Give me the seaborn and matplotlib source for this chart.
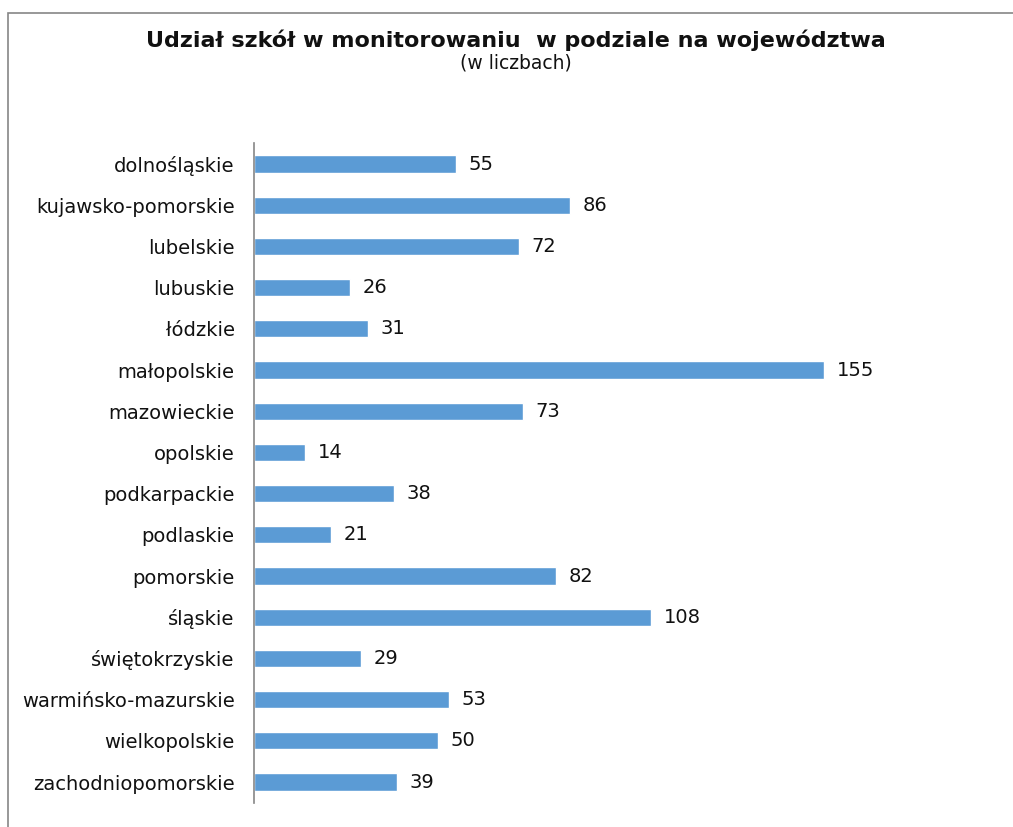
import matplotlib
matplotlib.use("Agg")
import matplotlib.pyplot as plt
import seaborn as sns
import pandas as pd
from matplotlib.patches import Rectangle

# dane
wojewodztwa = ["dolnośląskie", "kujawsko-pomorskie", "lubelskie", "lubuskie",
               "łódzkie", "małopolskie", "mazowieckie", "opolskie",
               "podkarpackie", "podlaskie", "pomorskie", "śląskie",
               "świętokrzyskie", "warmińsko-mazurskie", "wielkopolskie",
               "zachodniopomorskie"]
liczba_szkol = [55, 86, 72, 26, 31, 155, 73, 14, 38, 21, 82, 108, 29, 53, 50, 39]

tytul = "Udział szkół w monitorowaniu  w podziale na województwa"
podtytul = "(w liczbach)"

df = pd.DataFrame({"woj": wojewodztwa, "n": liczba_szkol})

sns.set_style("white")
plt.rcParams["font.family"] = ["DejaVu Sans"]

fig = plt.figure(figsize=(10.13, 8.27), dpi=100)
ax = fig.add_axes([0.2507, 0.0295, 0.7266, 0.7971])

sns.barplot(data=df, x="n", y="woj", color="#5B9BD5", saturation=1,
            width=0.42, ax=ax)

ax.set_xlim(0, 200)
ax.set_xlabel("")
ax.set_ylabel("")
ax.set_xticks([])
for s in ["top", "right", "bottom"]:
    ax.spines[s].set_visible(False)
ax.spines["left"].set_color("#868686")
ax.spines["left"].set_linewidth(1.2)
ax.tick_params(axis="y", length=0, pad=14, labelsize=14, labelcolor="#111111")

for c in ax.containers:
    ax.bar_label(c, padding=9, fontsize=14, color="#111111")

# tytul
fig.text(0.509, 0.951, tytul, ha="center", va="center", fontsize=16,
         fontweight="bold", color="#111111")
fig.text(0.509, 0.924, podtytul, ha="center", va="center", fontsize=13.5,
         color="#111111")

# ramka wykresu
fig.patches.append(Rectangle((0.008, -0.05), 1.1, 0.034 + 1.0, fill=False,
                             edgecolor="#868686", linewidth=1.2,
                             transform=fig.transFigure, figure=fig))

fig.savefig("out.png", dpi=100, facecolor="white")
